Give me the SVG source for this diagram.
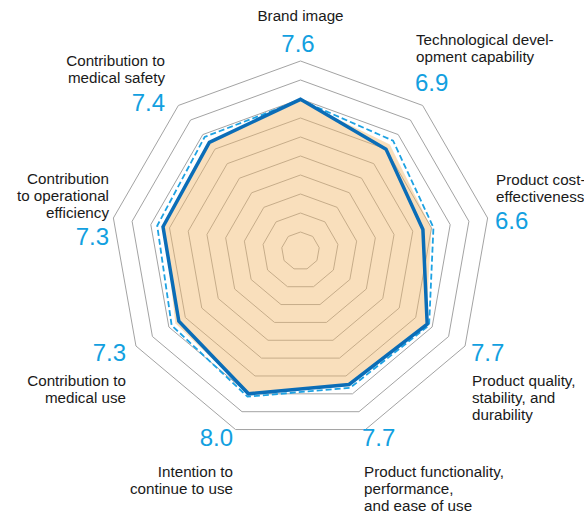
<svg xmlns="http://www.w3.org/2000/svg" width="584" height="515" viewBox="0 0 584 515">
<style>
.grid{fill:none;stroke:#a3a3a3;stroke-width:1}
.area{fill:#f2b96a;fill-opacity:0.45;stroke:none}
.solid{fill:none;stroke:#0b6db7;stroke-width:3.5;stroke-linejoin:miter}
.dash{fill:none;stroke:#1ea2e2;stroke-width:1.8;stroke-dasharray:6 3}
.lbl{font-family:"Liberation Sans",Arial,sans-serif;font-size:15.2px;fill:#1a1a1a}
.num{font-family:"Liberation Sans",Arial,sans-serif;font-size:24px;fill:#12a0e0}
.r{text-anchor:end}
.m{text-anchor:middle}
</style>
<rect width="584" height="515" fill="#ffffff"/>
<g id="chart" transform="translate(300.5 251)">
<g id="grid">
<polygon class="grid" points="0,-19 12.21,-14.55 18.71,-3.30 16.45,9.5 6.50,17.85 -6.50,17.85 -16.45,9.5 -18.71,-3.30 -12.21,-14.55"/>
<polygon class="grid" points="0,-38 24.43,-29.11 37.42,-6.60 32.91,19 13.00,35.71 -13.00,35.71 -32.91,19 -37.42,-6.60 -24.43,-29.11"/>
<polygon class="grid" points="0,-57 36.64,-43.66 56.13,-9.90 49.36,28.5 19.49,53.56 -19.49,53.56 -49.36,28.5 -56.13,-9.90 -36.64,-43.66"/>
<polygon class="grid" points="0,-76 48.85,-58.22 74.84,-13.20 65.82,38 25.99,71.42 -25.99,71.42 -65.82,38 -74.84,-13.20 -48.85,-58.22"/>
<polygon class="grid" points="0,-95 61.07,-72.77 93.56,-16.50 82.27,47.5 32.49,89.27 -32.49,89.27 -82.27,47.5 -93.56,-16.50 -61.07,-72.77"/>
<polygon class="grid" points="0,-114 73.28,-87.32 112.27,-19.80 98.73,57 38.99,107.12 -38.99,107.12 -98.73,57 -112.27,-19.80 -73.28,-87.32"/>
<polygon class="grid" points="0,-133 85.49,-101.88 130.98,-23.10 115.18,66.5 45.49,124.98 -45.49,124.98 -115.18,66.5 -130.98,-23.10 -85.49,-101.88"/>
<polygon class="grid" points="0,-152 97.70,-116.43 149.69,-26.39 131.64,76 51.98,142.83 -51.98,142.83 -131.64,76 -149.69,-26.39 -97.70,-116.43"/>
<polygon class="grid" points="0,-171 109.92,-130.99 168.40,-29.69 148.09,85.5 58.48,160.69 -58.48,160.69 -148.09,85.5 -168.40,-29.69 -109.92,-130.99"/>
<polygon class="grid" points="0,-190 122.13,-145.54 187.11,-32.99 164.54,95 64.98,178.54 -64.98,178.54 -164.54,95 -187.11,-32.99 -122.13,-145.54"/>
</g>
<g id="series">
<polygon id="area" class="area" points="0,-150 89.35,-106.47 130.98,-23.09 125.57,72.5 49.25,135.32 -51.98,142.83 -125.14,72.25 -135.90,-23.96 -90.63,-108.01"/>
<polygon id="dashed" class="dash" points="0,-151 92.56,-110.30 132.95,-23.44 128.60,74.25 49.76,136.73 -53.01,145.65 -128.86,74.4 -143.29,-25.26 -95.78,-114.13"/>
<polygon id="solid" class="solid" points="0,-151.7 85.49,-101.88 122.41,-21.58 126.70,73.15 48.56,133.44 -51.98,142.83 -121.67,70.25 -137.48,-24.23 -91.15,-108.62"/>
</g>
</g>
<g id="labels">
<g id="brand"><text class="lbl m" x="300.5" y="21">Brand image</text><text class="num m" x="298" y="52">7.6</text></g>
<g id="tech"><text class="lbl" x="416" y="45">Technological devel-</text><text class="lbl" x="416" y="62">opment capability</text><text class="num" x="415" y="91">6.9</text></g>
<g id="cost"><text class="lbl" x="496" y="185">Product cost-</text><text class="lbl" x="496" y="202">effectiveness</text><text class="num" x="495" y="229">6.6</text></g>
<g id="quality"><text class="num" x="471" y="361">7.7</text><text class="lbl" x="472" y="386">Product quality,</text><text class="lbl" x="472" y="403">stability, and</text><text class="lbl" x="472" y="420">durability</text></g>
<g id="function"><text class="num" x="362" y="446">7.7</text><text class="lbl" x="364" y="477">Product functionality,</text><text class="lbl" x="364" y="494">performance,</text><text class="lbl" x="364" y="511">and ease of use</text></g>
<g id="intention"><text class="num r" x="233" y="446">8.0</text><text class="lbl r" x="233" y="477">Intention to</text><text class="lbl r" x="233" y="494">continue to use</text></g>
<g id="meduse"><text class="num r" x="126" y="361">7.3</text><text class="lbl r" x="126" y="386">Contribution to</text><text class="lbl r" x="126" y="403">medical use</text></g>
<g id="operational"><text class="lbl r" x="109" y="184">Contribution</text><text class="lbl r" x="109" y="201">to operational</text><text class="lbl r" x="109" y="218">efficiency</text><text class="num r" x="109" y="245">7.3</text></g>
<g id="safety"><text class="lbl r" x="165" y="66">Contribution to</text><text class="lbl r" x="165" y="83">medical safety</text><text class="num r" x="165" y="111">7.4</text></g>
</g>
</svg>
